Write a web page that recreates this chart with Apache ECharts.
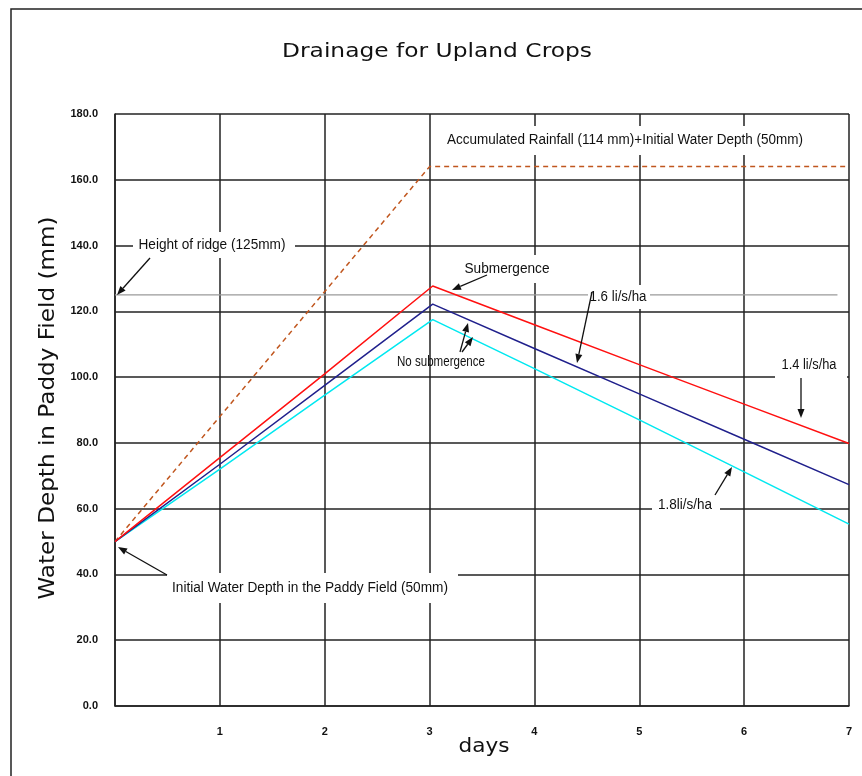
<!DOCTYPE html>
<html><head><meta charset="utf-8">
<script src="https://cdn.jsdelivr.net/npm/echarts@6/dist/echarts.min.js"></script>
<style>html,body{margin:0;padding:0;background:#fff}#c{width:862px;height:776px}</style>
</head><body><div id="c"></div>
<script>
// ---- data ----
const days = [0, 1, 2, 3.03, 4, 5, 6, 7];
const depth14 = [50, 75.5, 101, 127.7, 115.9, 103.8, 91.8, 79.8];   // 1.4 li/s/ha
const depth16 = [50, 73.5, 97.5, 122.2, 108.7, 94.9, 81.1, 67.3];   // 1.6 li/s/ha
const depth18 = [50, 72, 94.5, 117.5, 102.6, 87.0, 71.2, 55.3];     // 1.8 li/s/ha
const rainDays = [0, 1, 2, 3, 7];
const rainDepth = [50, 88, 126, 164, 164];                          // accumulated rainfall + initial
const ridgeDays = [0, 6.89];
const ridgeHeight = [125, 125];
const xTicks = [0, 1, 2, 3, 4, 5, 6, 7];
const yTicks = [0, 20, 40, 60, 80, 100, 120, 140, 160, 180];

const pair = (xs, ys) => xs.map((x, i) => [x, ys[i]]);

const chart = echarts.init(document.getElementById('c'), null, {renderer: 'canvas'});

const mctx = document.createElement('canvas').getContext('2d');
function fit(str, font, target) { mctx.font = font; return target / mctx.measureText(str).width; }

const TXT = '#111';
const noteFont = 'Liberation Sans';
function note(str, cx, cy, w, box, size) {
  const fs = size || 14;
  const f = fs + 'px "' + noteFont + '"';
  const els = [];
  if (box) els.push({type: 'rect', z: 100, shape: {x: box[0], y: box[1], width: box[2] - box[0], height: box[3] - box[1]}, style: {fill: '#fff'}});
  els.push({type: 'text', z: 101, x: cx, y: cy, scaleX: fit(str, f, w),
    style: {text: str, fontSize: fs, fontFamily: noteFont, fill: TXT, align: 'center', verticalAlign: 'middle'}});
  return els;
}
function arrow(x1, y1, x2, y2) {
  const a = Math.atan2(y2 - y1, x2 - x1), L = 9, W = 3.5;
  const bx = x2 - L * Math.cos(a), by = y2 - L * Math.sin(a);
  const px = -Math.sin(a) * W, py = Math.cos(a) * W;
  return [
    {type: 'line', z: 102, shape: {x1: x1, y1: y1, x2: bx, y2: by}, style: {stroke: '#111', lineWidth: 1.3}},
    {type: 'polygon', z: 102, shape: {points: [[x2, y2], [bx + px, by + py], [bx - px, by - py]]}, style: {fill: '#111'}}
  ];
}

const titleStr = 'Drainage for Upland Crops';
const yNameStr = 'Water Depth in Paddy Field (mm)';
const xNameStr = 'days';

const graphics = [].concat(
  [{type: 'rect', z: 0, shape: {x: 11, y: 9, width: 900, height: 900}, style: {fill: 'none', stroke: '#222', lineWidth: 1.5}}],
  [{type: 'text', z: 101, x: 437, y: 52, scaleX: fit(titleStr, '20px "DejaVu Sans"', 310),
    style: {text: titleStr, fontSize: 20, fontFamily: 'DejaVu Sans', fill: TXT, align: 'center', verticalAlign: 'middle'}}],
  [{type: 'text', z: 101, x: 49, y: 408, rotation: Math.PI / 2, scaleX: fit(yNameStr, '21px "DejaVu Sans"', 383),
    style: {text: yNameStr, fontSize: 21, fontFamily: 'DejaVu Sans', fill: TXT, align: 'center', verticalAlign: 'middle'}}],
  [{type: 'text', z: 101, x: 484, y: 747, scaleX: fit(xNameStr, '20px "DejaVu Sans"', 51),
    style: {text: xNameStr, fontSize: 20, fontFamily: 'DejaVu Sans', fill: TXT, align: 'center', verticalAlign: 'middle'}}],
  note('Height of ridge (125mm)', 212, 245, 147, [133, 232, 295, 258]),
  arrow(150, 258, 117, 295),
  note('Accumulated Rainfall (114 mm)+Initial Water Depth (50mm)', 625, 140, 356, [440, 126, 812, 155]),
  note('Submergence', 507, 269, 85, [458, 255, 557, 283]),
  arrow(487, 275, 452, 290),
  note('No submergence', 441, 362, 88, null),
  arrow(460, 352, 468, 323),
  arrow(462, 352, 473, 337),
  note('1.6 li/s/ha', 618, 297, 57, [588, 285, 650, 309]),
  arrow(592, 292, 577, 363),
  note('1.4 li/s/ha', 809, 365, 55, [775, 352, 847, 380]),
  arrow(801, 378, 801, 418),
  note('1.8li/s/ha', 685, 505, 54, [652, 496, 720, 520]),
  arrow(715, 495, 732, 467),
  note('Initial Water Depth in the Paddy Field (50mm)', 310, 588, 276, [167, 573, 458, 603]),
  arrow(167, 575, 118, 547)
);

const axisLabelStyle = {fontFamily: 'Liberation Sans', fontWeight: 'bold', fontSize: 11, color: '#111'};
const gridLine = {show: true, lineStyle: {color: '#222', width: 1.5}};

chart.setOption({
  animation: false,
  backgroundColor: '#fff',
  grid: {left: 115, right: 13, top: 114, bottom: 70, containLabel: false},
  xAxis: {
    type: 'value', min: xTicks[0], max: xTicks[xTicks.length - 1], interval: 1,
    axisLine: {show: true, lineStyle: {color: '#222', width: 1.5}},
    axisTick: {show: false},
    splitLine: gridLine,
    axisLabel: Object.assign({margin: 20, formatter: v => (v === 0 ? '' : String(v))}, axisLabelStyle)
  },
  yAxis: {
    type: 'value', min: yTicks[0], max: yTicks[yTicks.length - 1], interval: 20,
    axisLine: {show: true, lineStyle: {color: '#222', width: 1.5}},
    axisTick: {show: false},
    splitLine: gridLine,
    axisLabel: Object.assign({margin: 17, formatter: v => v.toFixed(1)}, axisLabelStyle)
  },
  series: [
    {name: 'Height of ridge', type: 'line', data: pair(ridgeDays, ridgeHeight), showSymbol: false, symbol: 'none', z: 2,
      lineStyle: {color: '#9a9a9a', width: 1.2}},
    {name: 'Accumulated rainfall', type: 'line', data: pair(rainDays, rainDepth), symbol: 'none', z: 3,
      lineStyle: {color: '#c0561e', width: 1.5, type: [5, 4]}},
    {name: '1.8 li/s/ha', type: 'line', data: pair(days, depth18), symbol: 'none', z: 4,
      lineStyle: {color: '#00e8f0', width: 1.5}},
    {name: '1.6 li/s/ha', type: 'line', data: pair(days, depth16), symbol: 'none', z: 5,
      lineStyle: {color: '#20208c', width: 1.5}},
    {name: '1.4 li/s/ha', type: 'line', data: pair(days, depth14), symbol: 'none', z: 6,
      lineStyle: {color: '#ff1010', width: 1.5}}
  ],
  graphic: {elements: graphics}
});
</script>
</body></html>
